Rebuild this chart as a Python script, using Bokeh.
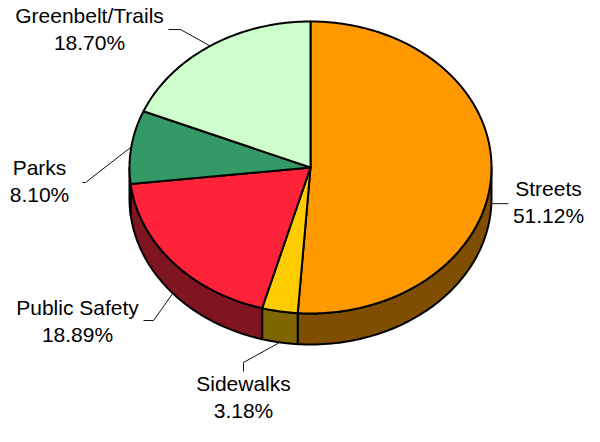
import numpy as np
from bokeh.plotting import figure
from bokeh.models import Range1d, ColumnDataSource
from bokeh.core.properties import value
from bokeh.embed import file_html
from bokeh.resources import INLINE

# ---- data ----
categories = ["Streets", "Sidewalks", "Public Safety", "Parks", "Greenbelt/Trails"]
shares = [51.12, 3.18, 18.89, 8.10, 18.70]
top_colors = ["#FF9900", "#FFCC00", "#FF2339", "#339966", "#CCFFCC"]
side_colors = ["#7F4E00", "#806600", "#7F1520", "#1A4D33", "#667F66"]

# ---- layout (pixels; y grows downward) ----
CX, CY = 310.0, 167.0      # centre of the top face
RX, RY = 181.0, 146.0      # radii of the top ellipse
DEPTH = 31.0               # thickness of the disc
LINE_GAP = 27.0            # distance between label lines
TEXT_DY = -7.0             # baseline correction for the text glyph
# label centre x, first-line baseline y, leader elbow and leader end
label_layout = [
    dict(x=548, y=195, elbow=None, end=(508, None)),
    dict(x=243, y=390, elbow=(243, 362), end=(243, 371)),
    dict(x=77, y=314, elbow=(153, 320), end=(143, 320)),
    dict(x=39, y=174, elbow=(85, 182), end=(82, 182)),
    dict(x=89, y=22, elbow=(180, 29), end=(168, 29)),
]

W, H = 584, 426
p = figure(width=W, height=H, x_range=Range1d(0, W), y_range=Range1d(H, 0),
           output_backend="svg", toolbar_location=None,
           x_axis_location=None, y_axis_location=None, min_border=0)
p.grid.visible = False
p.outline_line_color = None
p.background_fill_color = "white"


def ex(t):
    return CX + RX * np.sin(t)


def ey(t):
    return CY - RY * np.cos(t)


total = sum(shares)
bounds = np.concatenate([[0.0], np.cumsum(shares)]) / total * 2 * np.pi

# sides (only the front half is visible)
sx, sy, sc = [], [], []
for i in range(len(shares)):
    a, b = bounds[i], bounds[i + 1]
    s, e = max(a, np.pi / 2), min(b, 3 * np.pi / 2)
    if s < e:
        t = np.linspace(s, e, 80)
        xs = list(ex(t)) + list(ex(t[::-1]))
        ys = list(ey(t)) + list(ey(t[::-1]) + DEPTH)
        sx.append(xs)
        sy.append(ys)
        sc.append(side_colors[i])
p.patches(xs="xs", ys="ys", fill_color="c", line_color="black", line_width=2,
          line_join="round", source=ColumnDataSource(dict(xs=sx, ys=sy, c=sc)))

# top faces
tx, ty, tc = [], [], []
for i in range(len(shares)):
    a, b = bounds[i], bounds[i + 1]
    t = np.linspace(a, b, max(10, int((b - a) * 60)))
    tx.append([CX] + list(ex(t)))
    ty.append([CY] + list(ey(t)))
    tc.append(top_colors[i])
p.patches(xs="xs", ys="ys", fill_color="c", line_color="black", line_width=2,
          line_join="round", source=ColumnDataSource(dict(xs=tx, ys=ty, c=tc)))

# leader lines and labels
lx, ly = [], []
names_x, names_y, names = [], [], []
pct_x, pct_y, pcts = [], [], []
for i, lay in enumerate(label_layout):
    mid = (bounds[i] + bounds[i + 1]) / 2
    ax, ay = ex(mid), ey(mid)
    if np.pi / 2 <= mid <= 3 * np.pi / 2:
        ay += DEPTH
    pts = [(ax, ay)]
    if lay["elbow"] is not None:
        pts.append(lay["elbow"])
    end = lay["end"]
    pts.append((end[0], ay if end[1] is None else end[1]))
    lx.append([q[0] for q in pts])
    ly.append([q[1] for q in pts])
    names_x.append(lay["x"]); names_y.append(lay["y"] + TEXT_DY); names.append(categories[i])
    pct_x.append(lay["x"]); pct_y.append(lay["y"] + LINE_GAP + TEXT_DY)
    pcts.append(f"{shares[i]:.2f}%")

p.multi_line(xs=lx, ys=ly, line_color="#111111", line_width=1)

for xs_, ys_, txt in ((names_x, names_y, names), (pct_x, pct_y, pcts)):
    p.text(x=xs_, y=ys_, text=txt, text_align="center", text_baseline="alphabetic",
           text_font=value("Liberation Sans"), text_font_size="21px", text_color="#000000")

open("out.html", "w").write(file_html(p, INLINE))
